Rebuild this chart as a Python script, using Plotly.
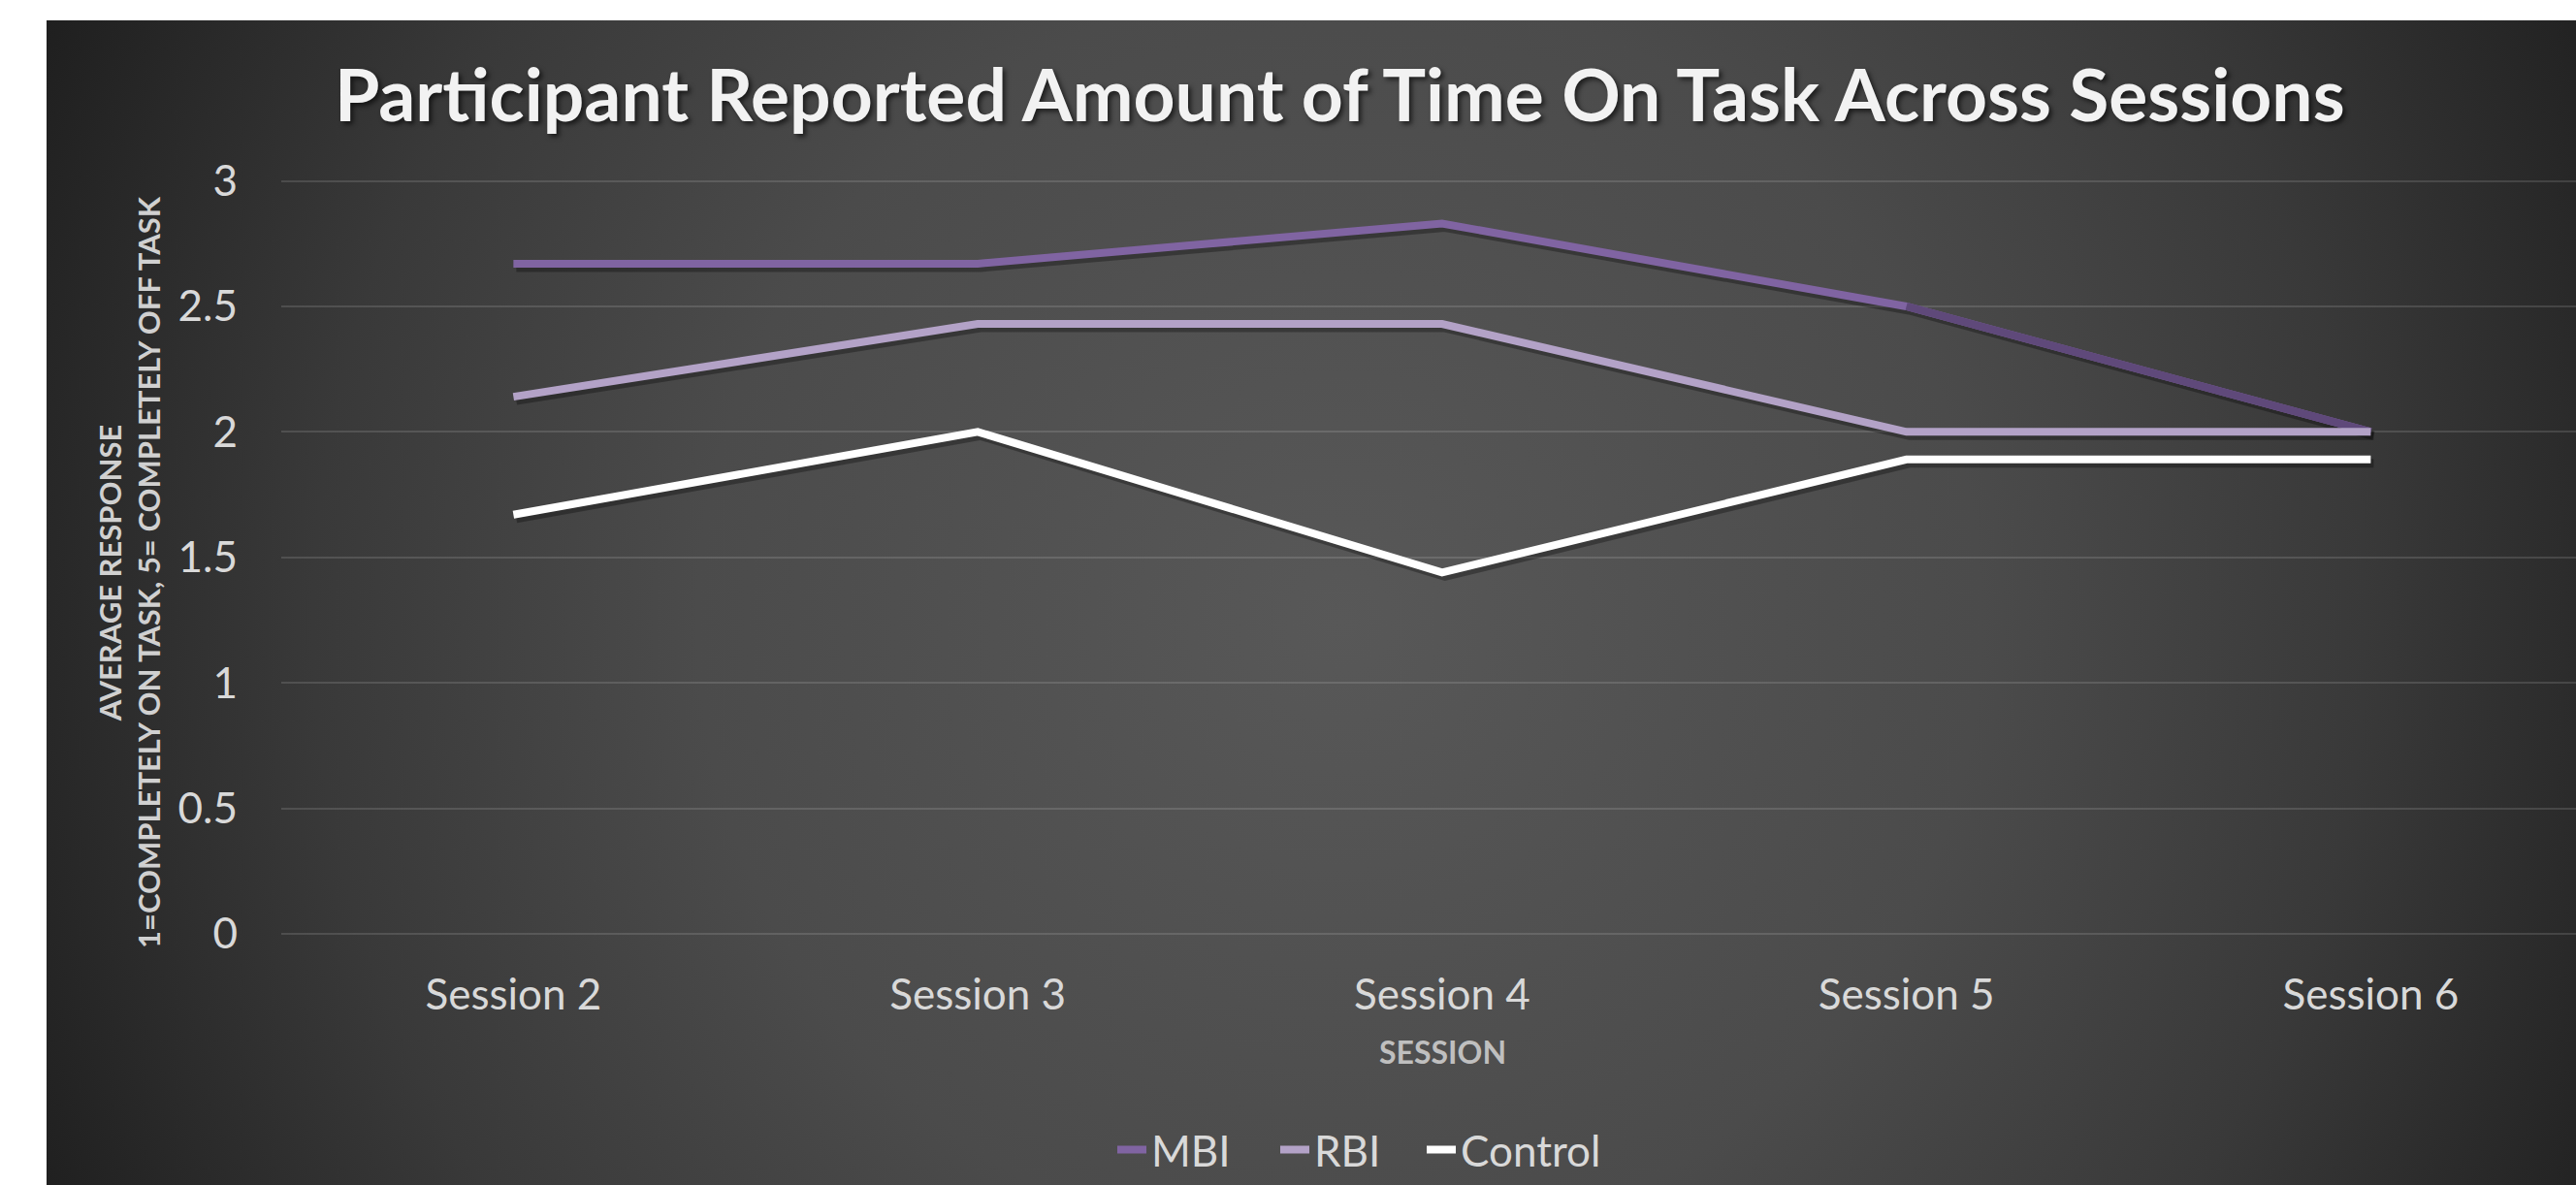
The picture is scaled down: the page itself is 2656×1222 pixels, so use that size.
import plotly.graph_objects as go
import urllib.parse

# ---- data ----
sessions = ["Session 2", "Session 3", "Session 4", "Session 5", "Session 6"]
mbi = [2.67, 2.67, 2.83, 2.50, 2.00]
rbi = [2.14, 2.43, 2.43, 2.00, 2.00]
control = [1.67, 2.00, 1.44, 1.89, 1.89]
y_ticks = [0, 0.5, 1, 1.5, 2, 2.5, 3]

title_text = "Participant Reported Amount of Time On Task Across Sessions"
y_title = "AVERAGE RESPONSE<br>1=COMPLETELY ON TASK, 5= COMPLETELY OFF TASK"
x_title = "SESSION"

# ---- layout geometry (pixels) ----
W, H = 2656, 1222
PL, PR_EDGE, PT, PB = 290, 2656, 185, 963
PW, PH = PR_EDGE - PL, PB - PT
cat_step = 478.75
Y_MAX = 3.006


def px(X):
    return (X - PL) / PW


def py(Y):
    return (PB - Y) / PH


FONT = "Lato, 'Open Sans', sans-serif"
x_range = [-0.5, -0.5 + PW / cat_step]
y_range = [0, Y_MAX]

# shadow offset (pixels)
sdx, sdy = 3, 4
x2_range = [x_range[0] - sdx / cat_step, x_range[1] - sdx / cat_step]
dy = sdy * (Y_MAX / PH)
y2_range = [y_range[0] + dy, y_range[1] + dy]

fig = go.Figure()

series = [("MBI", mbi, "#8064A2"), ("RBI", rbi, "#B3A2C7"), ("Control", control, "#FFFFFF")]

# soft shadows beneath lines (on shifted overlay axes x2/y2)
for name, vals, _ in series:
    fig.add_trace(go.Scatter(x=sessions, y=vals, mode="lines", showlegend=False,
                             hoverinfo="skip", xaxis="x2", yaxis="y2",
                             line=dict(color="rgba(0,0,0,0.3)", width=9)))

# main lines on overlay axes x3/y3 (same scale as the visible axes), drawn on top
fig.add_trace(go.Scatter(x=sessions, y=mbi, name="MBI", mode="lines",
                         xaxis="x3", yaxis="y3", legend="legend",
                         line=dict(color="#8064A2", width=8)))
fig.add_trace(go.Scatter(x=sessions[3:], y=mbi[3:], name="MBI", mode="lines",
                         xaxis="x3", yaxis="y3",
                         showlegend=False, hoverinfo="skip",
                         line=dict(color="#5F497A", width=8)))
fig.add_trace(go.Scatter(x=sessions, y=rbi, name="RBI", mode="lines",
                         xaxis="x3", yaxis="y3", legend="legend2",
                         line=dict(color="#B3A2C7", width=8)))
fig.add_trace(go.Scatter(x=sessions, y=control, name="Control", mode="lines",
                         xaxis="x3", yaxis="y3", legend="legend3",
                         line=dict(color="#FFFFFF", width=8)))
# anchor trace for visible axes (no marks)
fig.add_trace(go.Scatter(x=sessions, y=[None] * len(sessions), mode="lines",
                         showlegend=False, hoverinfo="skip"))

# radial gradient background as SVG data URI
bx0, by0 = 48, 21
bw, bh = W - bx0, H - by0
cx, cy, r = 1381 - bx0, 640 - by0, 1470
svg = (
    f"<svg xmlns='http://www.w3.org/2000/svg' width='{bw}' height='{bh}' viewBox='0 0 {bw} {bh}' preserveAspectRatio='none'>"
    f"<defs><radialGradient id='g' gradientUnits='userSpaceOnUse' cx='{cx}' cy='{cy}' r='{r}'>"
    "<stop offset='0' stop-color='#585858'/>"
    "<stop offset='0.45' stop-color='#4b4b4b'/>"
    "<stop offset='0.72' stop-color='#393939'/>"
    "<stop offset='1' stop-color='#1f1f1f'/>"
    "</radialGradient></defs>"
    f"<rect width='{bw}' height='{bh}' fill='url(#g)'/></svg>"
)
src = "data:image/svg+xml;charset=utf-8," + urllib.parse.quote(svg)


def leg(xpix):
    return dict(orientation="h", x=px(xpix), y=py(1186), xanchor="left", yanchor="middle",
                font=dict(size=44, color="#D9D9D9", family=FONT),
                bgcolor="rgba(0,0,0,0)", itemwidth=30)


fig.update_layout(
    width=W, height=H,
    margin=dict(l=PL, r=W - PR_EDGE, t=PT, b=H - PB, pad=0),
    paper_bgcolor="white",
    plot_bgcolor="rgba(0,0,0,0)",
    font=dict(family=FONT, color="#D9D9D9"),
    images=[dict(source=src, xref="paper", yref="paper",
                 x=px(bx0), y=py(by0), sizex=bw / PW, sizey=bh / PH,
                 xanchor="left", yanchor="top", sizing="stretch", layer="below")],
    xaxis=dict(type="category", range=x_range, categoryarray=sessions,
               showgrid=False, zeroline=False, showline=False, ticks="",
               tickfont=dict(size=44, color="#D9D9D9", family=FONT),
               ticklabelstandoff=33),
    xaxis2=dict(type="category", range=x2_range, overlaying="x", visible=False),
    xaxis3=dict(type="category", range=x_range, overlaying="x", visible=False),
    yaxis=dict(range=y_range, tickvals=y_ticks, ticktext=[f"{v:g}" for v in y_ticks],
               showgrid=True, gridcolor="rgba(255,255,255,0.13)", gridwidth=2,
               zeroline=True, zerolinecolor="rgba(255,255,255,0.13)", zerolinewidth=2,
               showline=False, ticks="",
               tickfont=dict(size=44, color="#D9D9D9", family=FONT),
               ticklabelstandoff=44),
    yaxis2=dict(range=y2_range, overlaying="y", visible=False),
    yaxis3=dict(range=y_range, overlaying="y", visible=False),
    legend=leg(1147),
    legend2=leg(1315),
    legend3=leg(1466),
    showlegend=True,
    annotations=[
        dict(text=title_text, xref="paper", yref="paper", x=px(1381), y=py(96),
             xanchor="center", yanchor="middle", showarrow=False,
             font=dict(size=75, color="#F2F2F2", family=FONT, weight="bold",
                       shadow="3px 3px 5px rgba(0,0,0,0.6)")),
        dict(text=y_title, xref="paper", yref="paper", x=px(133), y=py(590),
             xanchor="center", yanchor="middle", showarrow=False, textangle=-90,
             font=dict(size=31, color="#D0D0D0", family=FONT, weight="bold")),
        dict(text=x_title, xref="paper", yref="paper", x=px(1487), y=py(1084),
             xanchor="center", yanchor="middle", showarrow=False,
             font=dict(size=32, color="#BFBFBF", family=FONT, weight="bold")),
    ],
)

fig.write_html("out.html", config={"displayModeBar": False},
               post_script="document.body.style.margin='0';document.body.style.overflow='hidden';")
